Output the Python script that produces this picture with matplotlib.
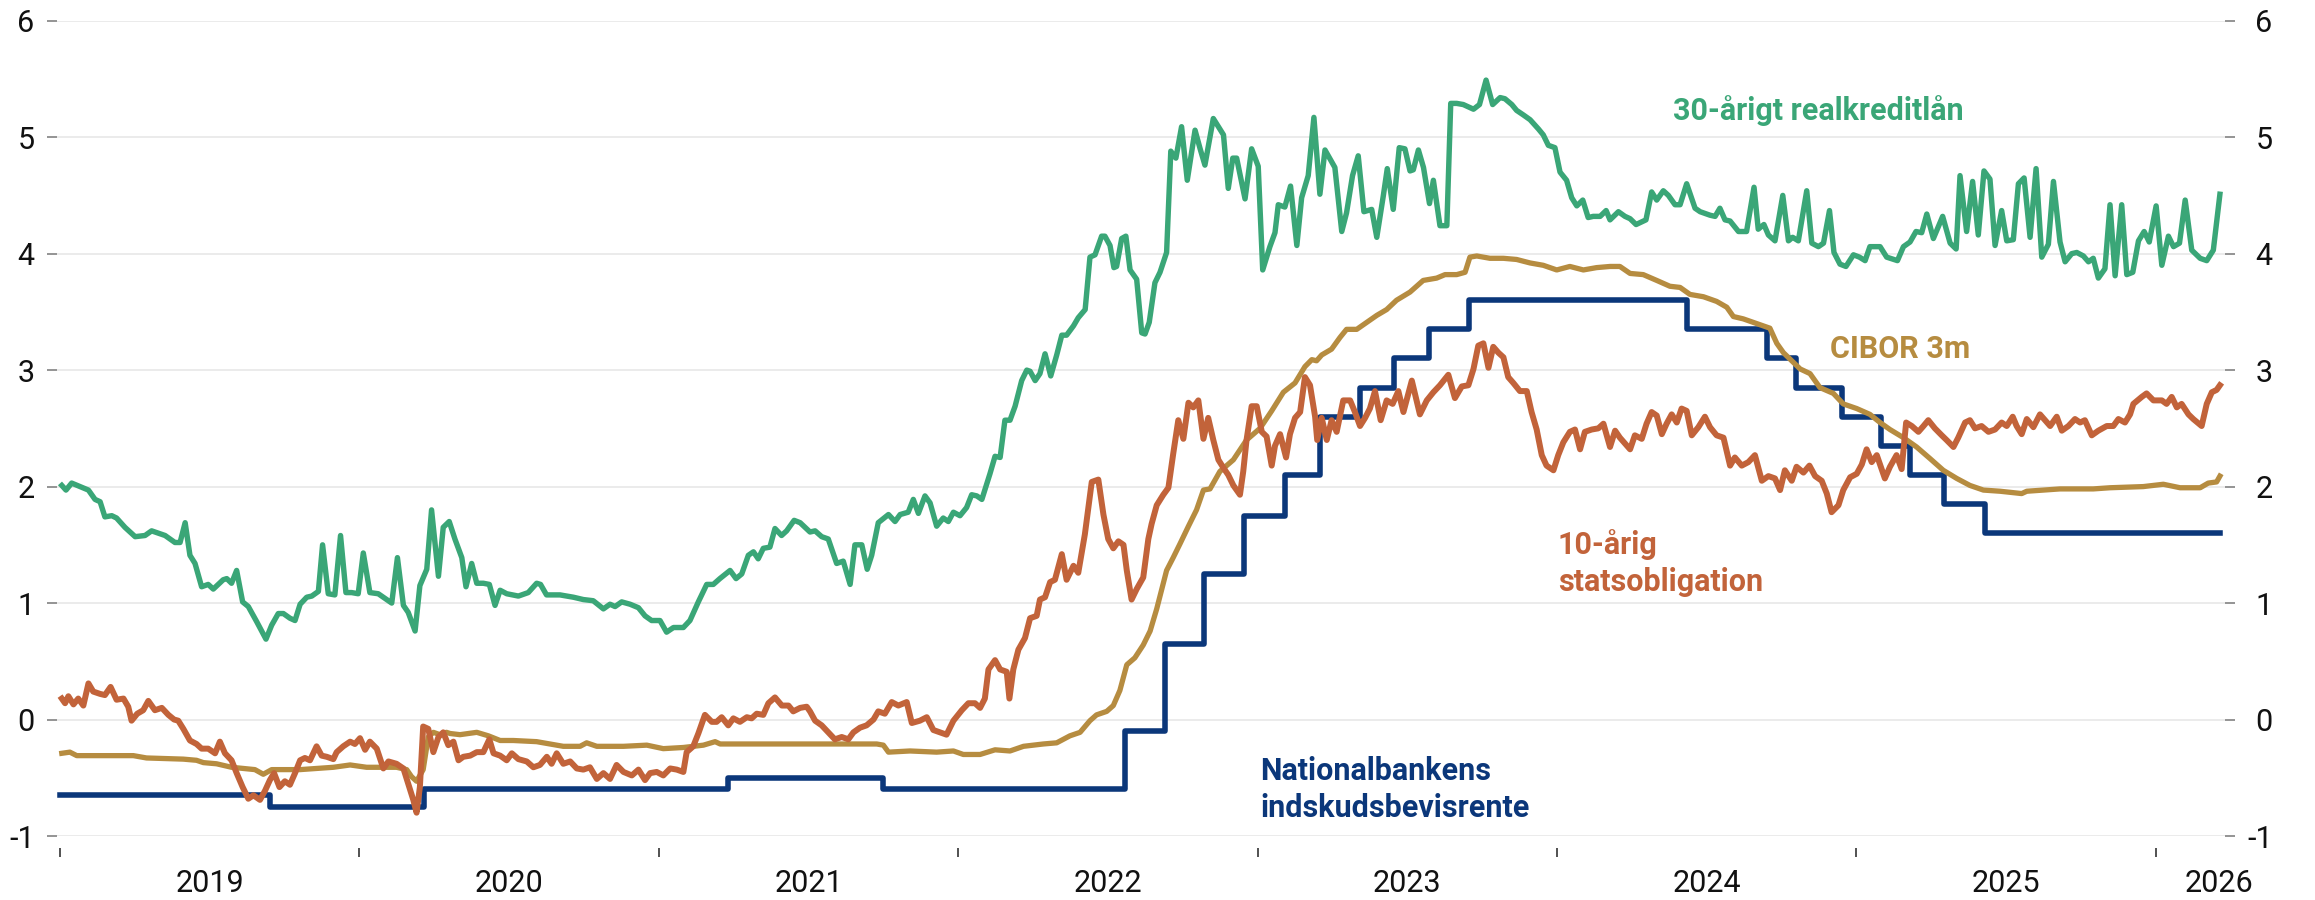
import numpy as np
import matplotlib.pyplot as plt

# ===============================
# 配置
# ===============================
plt.rcParams["font.family"] = ["Roboto", "DejaVu Sans"]
plt.rcParams["axes.unicode_minus"] = False

GREEN = "#3aa677"
GOLD = "#b68c40"
ORANGE = "#c2633a"
NAVY = "#0b377a"

# ===============================
# 数据 (decimal year, rate in %)
# ===============================
# 30-årigt realkreditlån (weekly)
realkredit = [
    (2019.006, 2.01), (2019.020, 1.97), (2019.039, 2.03), (2019.095, 1.97), (2019.117, 1.89),
    (2019.134, 1.87), (2019.150, 1.74), (2019.173, 1.75), (2019.189, 1.73), (2019.217, 1.65),
    (2019.251, 1.57), (2019.284, 1.58), (2019.306, 1.62), (2019.351, 1.58), (2019.384, 1.52),
    (2019.401, 1.52), (2019.418, 1.69), (2019.434, 1.41), (2019.451, 1.34), (2019.473, 1.14),
    (2019.495, 1.16), (2019.512, 1.12), (2019.545, 1.20), (2019.557, 1.21), (2019.573, 1.17),
    (2019.590, 1.28), (2019.610, 1.01), (2019.629, 0.97), (2019.657, 0.84), (2019.688, 0.69),
    (2019.707, 0.81), (2019.729, 0.91), (2019.746, 0.91), (2019.768, 0.87), (2019.785, 0.85),
    (2019.802, 0.99), (2019.824, 1.05), (2019.841, 1.06), (2019.863, 1.10), (2019.877, 1.50),
    (2019.896, 1.08), (2019.918, 1.07), (2019.937, 1.58), (2019.955, 1.09), (2019.974, 1.09),
    (2019.996, 1.08), (2020.013, 1.43), (2020.035, 1.09), (2020.063, 1.08), (2020.080, 1.05),
    (2020.108, 1.00), (2020.127, 1.39), (2020.147, 0.98), (2020.163, 0.92), (2020.186, 0.76),
    (2020.202, 1.15), (2020.225, 1.29), (2020.241, 1.80), (2020.264, 1.23), (2020.280, 1.65),
    (2020.300, 1.70), (2020.319, 1.55), (2020.342, 1.39), (2020.356, 1.14), (2020.375, 1.34),
    (2020.392, 1.17), (2020.414, 1.17), (2020.434, 1.16), (2020.453, 0.98), (2020.470, 1.11),
    (2020.492, 1.08), (2020.531, 1.06), (2020.564, 1.09), (2020.592, 1.17), (2020.605, 1.16),
    (2020.625, 1.07), (2020.670, 1.07), (2020.715, 1.05), (2020.748, 1.03), (2020.781, 1.02),
    (2020.815, 0.95), (2020.837, 0.99), (2020.854, 0.97), (2020.876, 1.01), (2020.904, 0.99),
    (2020.932, 0.96), (2020.954, 0.89), (2020.976, 0.85), (2021.004, 0.85), (2021.026, 0.75),
    (2021.049, 0.79), (2021.082, 0.79), (2021.104, 0.85), (2021.132, 1.01), (2021.160, 1.16),
    (2021.182, 1.16), (2021.204, 1.21), (2021.238, 1.28), (2021.258, 1.21), (2021.277, 1.25),
    (2021.299, 1.41), (2021.316, 1.44), (2021.332, 1.38), (2021.349, 1.47), (2021.371, 1.48),
    (2021.388, 1.64), (2021.410, 1.58), (2021.427, 1.62), (2021.452, 1.71), (2021.472, 1.69),
    (2021.505, 1.61), (2021.522, 1.62), (2021.544, 1.57), (2021.566, 1.55), (2021.594, 1.34),
    (2021.616, 1.36), (2021.639, 1.16), (2021.655, 1.50), (2021.678, 1.50), (2021.696, 1.29),
    (2021.711, 1.41), (2021.733, 1.69), (2021.767, 1.76), (2021.789, 1.70), (2021.806, 1.76),
    (2021.833, 1.78), (2021.850, 1.89), (2021.867, 1.77), (2021.889, 1.92), (2021.906, 1.86),
    (2021.928, 1.66), (2021.950, 1.73), (2021.967, 1.70), (2021.984, 1.78), (2022.006, 1.75),
    (2022.028, 1.82), (2022.045, 1.93), (2022.062, 1.92), (2022.079, 1.89), (2022.106, 2.11),
    (2022.123, 2.26), (2022.140, 2.25), (2022.156, 2.57), (2022.173, 2.57), (2022.190, 2.69),
    (2022.212, 2.91), (2022.229, 3.00), (2022.240, 2.99), (2022.257, 2.91), (2022.273, 2.97),
    (2022.290, 3.14), (2022.309, 2.95), (2022.329, 3.13), (2022.346, 3.30), (2022.362, 3.30),
    (2022.385, 3.38), (2022.401, 3.45), (2022.424, 3.52), (2022.440, 3.97), (2022.457, 3.99),
    (2022.479, 4.15), (2022.490, 4.15), (2022.507, 4.07), (2022.520, 3.88), (2022.529, 3.89),
    (2022.546, 4.13), (2022.560, 4.15), (2022.574, 3.86), (2022.596, 3.78), (2022.613, 3.32),
    (2022.624, 3.31), (2022.638, 3.41), (2022.657, 3.75), (2022.674, 3.84), (2022.696, 4.01),
    (2022.710, 4.88), (2022.727, 4.82), (2022.746, 5.09), (2022.765, 4.63), (2022.791, 5.06),
    (2022.808, 4.90), (2022.824, 4.76), (2022.852, 5.16), (2022.886, 5.02), (2022.902, 4.56),
    (2022.917, 4.82), (2022.930, 4.82), (2022.958, 4.47), (2022.980, 4.90), (2023.002, 4.75),
    (2023.017, 3.86), (2023.041, 4.06), (2023.058, 4.18), (2023.069, 4.42), (2023.091, 4.40),
    (2023.110, 4.58), (2023.131, 4.07), (2023.147, 4.48), (2023.169, 4.67), (2023.188, 5.17),
    (2023.208, 4.51), (2023.225, 4.89), (2023.258, 4.74), (2023.281, 4.19), (2023.297, 4.35),
    (2023.317, 4.67), (2023.336, 4.84), (2023.355, 4.36), (2023.381, 4.38), (2023.398, 4.14),
    (2023.420, 4.50), (2023.433, 4.73), (2023.453, 4.38), (2023.473, 4.91), (2023.492, 4.90),
    (2023.509, 4.71), (2023.520, 4.72), (2023.537, 4.89), (2023.554, 4.74), (2023.574, 4.43),
    (2023.587, 4.63), (2023.609, 4.24), (2023.632, 4.24), (2023.645, 5.29), (2023.665, 5.29),
    (2023.687, 5.28), (2023.721, 5.24), (2023.741, 5.28), (2023.763, 5.49), (2023.785, 5.28),
    (2023.810, 5.34), (2023.826, 5.33), (2023.849, 5.28), (2023.865, 5.23), (2023.888, 5.19),
    (2023.910, 5.15), (2023.938, 5.07), (2023.954, 5.02), (2023.971, 4.93), (2023.993, 4.91),
    (2024.010, 4.70), (2024.032, 4.63), (2024.049, 4.48), (2024.066, 4.41), (2024.086, 4.46),
    (2024.104, 4.31), (2024.121, 4.32), (2024.144, 4.32), (2024.164, 4.37), (2024.177, 4.29),
    (2024.205, 4.36), (2024.227, 4.32), (2024.244, 4.30), (2024.264, 4.25), (2024.297, 4.29),
    (2024.316, 4.53), (2024.333, 4.46), (2024.355, 4.54), (2024.372, 4.50), (2024.394, 4.42),
    (2024.411, 4.42), (2024.433, 4.60), (2024.461, 4.39), (2024.478, 4.36), (2024.511, 4.33),
    (2024.528, 4.32), (2024.544, 4.39), (2024.561, 4.29), (2024.578, 4.28), (2024.606, 4.19),
    (2024.633, 4.19), (2024.658, 4.57), (2024.672, 4.21), (2024.691, 4.25), (2024.706, 4.16),
    (2024.728, 4.11), (2024.754, 4.50), (2024.773, 4.11), (2024.787, 4.14), (2024.806, 4.11),
    (2024.834, 4.54), (2024.851, 4.09), (2024.873, 4.06), (2024.890, 4.09), (2024.910, 4.37),
    (2024.925, 4.01), (2024.945, 3.91), (2024.965, 3.89), (2024.990, 3.99), (2025.010, 3.97),
    (2025.029, 3.94), (2025.045, 4.06), (2025.079, 4.06), (2025.101, 3.97), (2025.137, 3.94),
    (2025.157, 4.06), (2025.179, 4.10), (2025.199, 4.19), (2025.218, 4.18), (2025.235, 4.34),
    (2025.257, 4.13), (2025.288, 4.32), (2025.313, 4.09), (2025.333, 4.04), (2025.346, 4.67),
    (2025.368, 4.19), (2025.388, 4.62), (2025.407, 4.16), (2025.426, 4.71), (2025.446, 4.64),
    (2025.463, 4.07), (2025.485, 4.37), (2025.502, 4.11), (2025.524, 4.12), (2025.541, 4.60),
    (2025.560, 4.65), (2025.580, 4.14), (2025.600, 4.73), (2025.619, 3.97), (2025.641, 4.08),
    (2025.658, 4.62), (2025.680, 4.10), (2025.697, 3.93), (2025.719, 4.00), (2025.736, 4.01),
    (2025.758, 3.98), (2025.775, 3.93), (2025.791, 3.96), (2025.808, 3.79), (2025.830, 3.87),
    (2025.847, 4.42), (2025.864, 3.81), (2025.886, 4.42), (2025.903, 3.82), (2025.923, 3.84),
    (2025.942, 4.11), (2025.961, 4.19), (2025.978, 4.10), (2026.001, 4.41), (2026.020, 3.90),
    (2026.042, 4.15), (2026.059, 4.06), (2026.079, 4.09), (2026.098, 4.46), (2026.120, 4.03),
    (2026.148, 3.96), (2026.170, 3.94), (2026.192, 4.03), (2026.214, 4.51),
]

# 10-årig statsobligation
statsobligation = [
    (2019.006, 0.18), (2019.017, 0.14), (2019.028, 0.20), (2019.045, 0.13), (2019.061, 0.18),
    (2019.078, 0.12), (2019.095, 0.31), (2019.111, 0.24), (2019.134, 0.22), (2019.150, 0.21),
    (2019.169, 0.28), (2019.189, 0.17), (2019.212, 0.18), (2019.228, 0.11), (2019.239, -0.01),
    (2019.258, 0.05), (2019.278, 0.08), (2019.295, 0.16), (2019.317, 0.08), (2019.340, 0.10),
    (2019.362, 0.04), (2019.381, 0.00), (2019.395, -0.01), (2019.412, -0.08), (2019.434, -0.18),
    (2019.456, -0.21), (2019.473, -0.25), (2019.495, -0.25), (2019.518, -0.29), (2019.534, -0.19),
    (2019.551, -0.29), (2019.573, -0.35), (2019.590, -0.46), (2019.610, -0.58), (2019.629, -0.68),
    (2019.646, -0.65), (2019.668, -0.69), (2019.685, -0.61), (2019.701, -0.52), (2019.715, -0.46),
    (2019.733, -0.58), (2019.751, -0.53), (2019.768, -0.56), (2019.785, -0.46), (2019.802, -0.35),
    (2019.818, -0.33), (2019.835, -0.35), (2019.857, -0.23), (2019.874, -0.31), (2019.891, -0.32),
    (2019.913, -0.34), (2019.924, -0.28), (2019.946, -0.23), (2019.969, -0.19), (2019.985, -0.21),
    (2020.002, -0.16), (2020.019, -0.26), (2020.035, -0.19), (2020.058, -0.25), (2020.080, -0.42),
    (2020.097, -0.36), (2020.124, -0.38), (2020.147, -0.42), (2020.163, -0.55), (2020.180, -0.69),
    (2020.191, -0.80), (2020.202, -0.58), (2020.213, -0.06), (2020.230, -0.08), (2020.247, -0.28),
    (2020.264, -0.15), (2020.280, -0.11), (2020.297, -0.22), (2020.314, -0.19), (2020.331, -0.35),
    (2020.347, -0.32), (2020.370, -0.31), (2020.392, -0.28), (2020.414, -0.28), (2020.434, -0.17),
    (2020.448, -0.29), (2020.470, -0.31), (2020.492, -0.35), (2020.509, -0.29), (2020.531, -0.34),
    (2020.559, -0.36), (2020.581, -0.41), (2020.603, -0.39), (2020.626, -0.32), (2020.642, -0.38),
    (2020.659, -0.29), (2020.681, -0.38), (2020.704, -0.36), (2020.726, -0.42), (2020.748, -0.43),
    (2020.770, -0.41), (2020.793, -0.51), (2020.815, -0.46), (2020.837, -0.51), (2020.859, -0.39),
    (2020.882, -0.45), (2020.910, -0.48), (2020.932, -0.43), (2020.954, -0.52), (2020.971, -0.46),
    (2020.993, -0.45), (2021.015, -0.48), (2021.038, -0.42), (2021.060, -0.43), (2021.082, -0.45),
    (2021.093, -0.28), (2021.115, -0.23), (2021.132, -0.12), (2021.154, 0.04), (2021.177, -0.02),
    (2021.193, -0.02), (2021.210, 0.02), (2021.232, -0.05), (2021.249, 0.01), (2021.271, -0.02),
    (2021.294, 0.02), (2021.310, 0.01), (2021.327, 0.05), (2021.349, 0.04), (2021.366, 0.14),
    (2021.388, 0.19), (2021.411, 0.12), (2021.433, 0.12), (2021.449, 0.07), (2021.472, 0.10),
    (2021.494, 0.11), (2021.505, 0.07), (2021.522, -0.01), (2021.544, -0.05), (2021.566, -0.11),
    (2021.588, -0.17), (2021.611, -0.15), (2021.633, -0.17), (2021.650, -0.11), (2021.672, -0.07),
    (2021.694, -0.05), (2021.717, 0.00), (2021.733, 0.07), (2021.755, 0.05), (2021.778, 0.15),
    (2021.800, 0.12), (2021.828, 0.15), (2021.845, -0.03), (2021.872, -0.01), (2021.895, 0.02),
    (2021.917, -0.09), (2021.939, -0.11), (2021.961, -0.13), (2021.984, -0.01), (2022.012, 0.08),
    (2022.034, 0.14), (2022.056, 0.14), (2022.073, 0.10), (2022.089, 0.18), (2022.101, 0.43),
    (2022.123, 0.51), (2022.140, 0.43), (2022.162, 0.41), (2022.171, 0.18), (2022.184, 0.43),
    (2022.201, 0.60), (2022.223, 0.70), (2022.240, 0.87), (2022.262, 0.89), (2022.273, 1.03),
    (2022.290, 1.05), (2022.307, 1.18), (2022.323, 1.20), (2022.346, 1.42), (2022.362, 1.20),
    (2022.385, 1.32), (2022.401, 1.26), (2022.423, 1.59), (2022.446, 2.04), (2022.468, 2.06),
    (2022.485, 1.76), (2022.501, 1.55), (2022.518, 1.47), (2022.535, 1.53), (2022.552, 1.50),
    (2022.563, 1.28), (2022.579, 1.03), (2022.596, 1.12), (2022.618, 1.22), (2022.635, 1.55),
    (2022.646, 1.68), (2022.663, 1.84), (2022.685, 1.93), (2022.702, 1.99), (2022.718, 2.28),
    (2022.735, 2.57), (2022.752, 2.41), (2022.769, 2.72), (2022.785, 2.68), (2022.802, 2.74),
    (2022.819, 2.41), (2022.835, 2.59), (2022.852, 2.40), (2022.869, 2.23), (2022.886, 2.16),
    (2022.902, 2.10), (2022.919, 2.01), (2022.941, 1.93), (2022.952, 2.13), (2022.963, 2.40),
    (2022.980, 2.69), (2022.997, 2.69), (2023.014, 2.47), (2023.030, 2.43), (2023.047, 2.18),
    (2023.058, 2.35), (2023.075, 2.45), (2023.095, 2.25), (2023.108, 2.45), (2023.125, 2.59),
    (2023.142, 2.64), (2023.158, 2.94), (2023.175, 2.87), (2023.192, 2.60), (2023.199, 2.40),
    (2023.214, 2.59), (2023.231, 2.40), (2023.247, 2.57), (2023.264, 2.47), (2023.286, 2.74),
    (2023.309, 2.74), (2023.325, 2.64), (2023.342, 2.52), (2023.359, 2.59), (2023.375, 2.67),
    (2023.392, 2.82), (2023.411, 2.57), (2023.431, 2.74), (2023.451, 2.71), (2023.470, 2.82),
    (2023.487, 2.64), (2023.515, 2.91), (2023.542, 2.62), (2023.565, 2.74), (2023.587, 2.81),
    (2023.609, 2.87), (2023.637, 2.96), (2023.659, 2.76), (2023.682, 2.86), (2023.704, 2.87),
    (2023.721, 3.01), (2023.737, 3.21), (2023.754, 3.23), (2023.771, 3.02), (2023.787, 3.20),
    (2023.804, 3.15), (2023.821, 3.11), (2023.837, 2.94), (2023.854, 2.89), (2023.876, 2.82),
    (2023.899, 2.82), (2023.915, 2.64), (2023.932, 2.49), (2023.949, 2.27), (2023.965, 2.18),
    (2023.988, 2.14), (2024.004, 2.27), (2024.021, 2.38), (2024.043, 2.47), (2024.060, 2.49),
    (2024.077, 2.32), (2024.093, 2.47), (2024.116, 2.49), (2024.138, 2.50), (2024.155, 2.54),
    (2024.177, 2.34), (2024.194, 2.48), (2024.210, 2.42), (2024.227, 2.37), (2024.244, 2.32),
    (2024.260, 2.44), (2024.283, 2.41), (2024.299, 2.54), (2024.316, 2.64), (2024.333, 2.61),
    (2024.350, 2.45), (2024.366, 2.54), (2024.383, 2.62), (2024.400, 2.55), (2024.416, 2.67),
    (2024.433, 2.65), (2024.450, 2.44), (2024.472, 2.51), (2024.494, 2.60), (2024.511, 2.51),
    (2024.533, 2.44), (2024.556, 2.42), (2024.578, 2.18), (2024.594, 2.25), (2024.617, 2.18),
    (2024.639, 2.21), (2024.661, 2.27), (2024.684, 2.05), (2024.706, 2.09), (2024.728, 2.07),
    (2024.745, 1.97), (2024.761, 2.14), (2024.784, 2.05), (2024.800, 2.17), (2024.823, 2.12),
    (2024.843, 2.18), (2024.862, 2.09), (2024.884, 2.05), (2024.901, 1.94), (2024.917, 1.78),
    (2024.940, 1.84), (2024.956, 1.97), (2024.979, 2.08), (2025.001, 2.11), (2025.018, 2.19),
    (2025.034, 2.32), (2025.051, 2.21), (2025.068, 2.27), (2025.084, 2.15), (2025.095, 2.07),
    (2025.112, 2.17), (2025.134, 2.27), (2025.151, 2.15), (2025.166, 2.55), (2025.185, 2.52),
    (2025.207, 2.47), (2025.224, 2.52), (2025.240, 2.57), (2025.262, 2.50), (2025.285, 2.44),
    (2025.301, 2.40), (2025.324, 2.34), (2025.340, 2.42), (2025.363, 2.55), (2025.379, 2.57),
    (2025.396, 2.50), (2025.418, 2.52), (2025.441, 2.47), (2025.463, 2.49), (2025.485, 2.55),
    (2025.502, 2.52), (2025.522, 2.60), (2025.535, 2.52), (2025.552, 2.45), (2025.569, 2.58),
    (2025.591, 2.51), (2025.613, 2.62), (2025.630, 2.57), (2025.647, 2.52), (2025.669, 2.60),
    (2025.686, 2.48), (2025.708, 2.52), (2025.730, 2.58), (2025.747, 2.55), (2025.763, 2.57),
    (2025.786, 2.44), (2025.808, 2.48), (2025.836, 2.52), (2025.858, 2.52), (2025.875, 2.58),
    (2025.897, 2.55), (2025.914, 2.62), (2025.925, 2.71), (2025.953, 2.77), (2025.969, 2.80),
    (2025.992, 2.74), (2026.020, 2.74), (2026.036, 2.71), (2026.053, 2.77), (2026.070, 2.68),
    (2026.086, 2.71), (2026.109, 2.62), (2026.125, 2.58), (2026.153, 2.52), (2026.170, 2.71),
    (2026.187, 2.81), (2026.203, 2.83), (2026.214, 2.87),
]

# CIBOR 3m
cibor = [
    (2019.006, -0.29), (2019.033, -0.28), (2019.056, -0.31), (2019.134, -0.31), (2019.245, -0.31),
    (2019.289, -0.33), (2019.412, -0.34), (2019.456, -0.35), (2019.479, -0.37), (2019.523, -0.38),
    (2019.573, -0.41), (2019.612, -0.42), (2019.651, -0.43), (2019.679, -0.47), (2019.707, -0.43),
    (2019.746, -0.43), (2019.802, -0.43), (2019.857, -0.42), (2019.913, -0.41), (2019.969, -0.39),
    (2020.024, -0.41), (2020.124, -0.41), (2020.158, -0.43), (2020.174, -0.49), (2020.191, -0.53),
    (2020.213, -0.43), (2020.230, -0.15), (2020.247, -0.11), (2020.269, -0.13), (2020.291, -0.11),
    (2020.303, -0.12), (2020.336, -0.13), (2020.392, -0.11), (2020.431, -0.14), (2020.470, -0.18),
    (2020.514, -0.18), (2020.592, -0.19), (2020.637, -0.21), (2020.681, -0.23), (2020.737, -0.23),
    (2020.759, -0.20), (2020.793, -0.23), (2020.882, -0.23), (2020.960, -0.22), (2021.015, -0.25),
    (2021.082, -0.24), (2021.149, -0.22), (2021.188, -0.19), (2021.205, -0.21), (2021.294, -0.21),
    (2021.405, -0.21), (2021.616, -0.21), (2021.728, -0.21), (2021.750, -0.22), (2021.767, -0.28),
    (2021.839, -0.27), (2021.928, -0.28), (2021.984, -0.27), (2022.017, -0.30), (2022.073, -0.30),
    (2022.123, -0.26), (2022.173, -0.27), (2022.218, -0.23), (2022.284, -0.21), (2022.329, -0.20),
    (2022.373, -0.14), (2022.407, -0.11), (2022.440, -0.01), (2022.462, 0.04), (2022.496, 0.07),
    (2022.518, 0.12), (2022.540, 0.25), (2022.563, 0.47), (2022.590, 0.53), (2022.618, 0.64),
    (2022.641, 0.76), (2022.663, 0.95), (2022.680, 1.12), (2022.696, 1.28), (2022.718, 1.39),
    (2022.741, 1.51), (2022.769, 1.66), (2022.796, 1.80), (2022.819, 1.97), (2022.841, 1.98),
    (2022.874, 2.13), (2022.919, 2.23), (2022.963, 2.40), (2023.008, 2.50), (2023.047, 2.65),
    (2023.086, 2.81), (2023.125, 2.89), (2023.158, 3.03), (2023.181, 3.09), (2023.197, 3.08),
    (2023.214, 3.13), (2023.247, 3.18), (2023.275, 3.28), (2023.297, 3.35), (2023.331, 3.35),
    (2023.370, 3.42), (2023.398, 3.47), (2023.431, 3.52), (2023.464, 3.60), (2023.509, 3.67),
    (2023.553, 3.77), (2023.598, 3.79), (2023.626, 3.82), (2023.665, 3.82), (2023.693, 3.84),
    (2023.709, 3.97), (2023.732, 3.98), (2023.776, 3.96), (2023.821, 3.96), (2023.865, 3.95),
    (2023.910, 3.92), (2023.954, 3.90), (2023.999, 3.86), (2024.043, 3.89), (2024.088, 3.86),
    (2024.132, 3.88), (2024.177, 3.89), (2024.210, 3.89), (2024.244, 3.83), (2024.288, 3.82),
    (2024.333, 3.77), (2024.377, 3.72), (2024.411, 3.71), (2024.444, 3.65), (2024.489, 3.63),
    (2024.533, 3.59), (2024.567, 3.54), (2024.589, 3.46), (2024.622, 3.44), (2024.667, 3.40),
    (2024.711, 3.36), (2024.734, 3.23), (2024.756, 3.15), (2024.784, 3.08), (2024.812, 3.01),
    (2024.845, 2.97), (2024.878, 2.85), (2024.923, 2.80), (2024.956, 2.71), (2025.001, 2.67),
    (2025.045, 2.62), (2025.079, 2.55), (2025.112, 2.49), (2025.157, 2.42), (2025.201, 2.34),
    (2025.246, 2.24), (2025.290, 2.14), (2025.335, 2.07), (2025.379, 2.01), (2025.424, 1.97),
    (2025.480, 1.96), (2025.552, 1.94), (2025.569, 1.96), (2025.680, 1.98), (2025.791, 1.98),
    (2025.847, 1.99), (2025.958, 2.00), (2026.025, 2.02), (2026.081, 1.99), (2026.148, 1.99),
    (2026.175, 2.03), (2026.203, 2.04), (2026.214, 2.09),
]

# Nationalbankens indskudsbevisrente (date of change, new rate)
nb_dates = [2019.000, 2019.701, 2020.216, 2021.230, 2021.750, 2022.556, 2022.689, 2022.822,
            2022.956, 2023.093, 2023.208, 2023.342, 2023.456, 2023.572, 2023.706, 2024.434,
            2024.701, 2024.797, 2024.951, 2025.083, 2025.179, 2025.293, 2025.430, 2026.214]
nb_rates = [-0.65, -0.75, -0.60, -0.50, -0.60, -0.10, 0.65, 1.25,
            1.75, 2.10, 2.60, 2.85, 3.10, 3.35, 3.60, 3.35,
            3.10, 2.85, 2.60, 2.35, 2.10, 1.85, 1.60, 1.60]

year_ticks = list(range(2019, 2027))
year_label_pos = [2019.5, 2020.5, 2021.5, 2022.5, 2023.5, 2024.5, 2025.5, 2026.21]
year_labels = ["2019", "2020", "2021", "2022", "2023", "2024", "2025", "2026"]
y_ticks = list(range(-1, 7))

# ===============================
# 绘制
# ===============================
fig = plt.figure(figsize=(23.15, 9), dpi=100)
ax = fig.add_axes([57 / 2315, 64 / 900, (2225 - 57) / 2315, (836 - 20.7) / 900])

ax.step(nb_dates, nb_rates, where="post", color=NAVY, lw=4.0, zorder=3)
x, y = np.array(cibor).T
ax.plot(x, y, color=GOLD, lw=3.8, zorder=4, solid_joinstyle="round")
x, y = np.array(statsobligation).T
ax.plot(x, y, color=ORANGE, lw=4.3, zorder=5, solid_joinstyle="round")
x, y = np.array(realkredit).T
ax.plot(x, y, color=GREEN, lw=3.9, zorder=6, solid_joinstyle="round")

# labels
lab = dict(fontsize=22, fontweight="bold", ha="left", va="center")
ax.text(2024.387, 5.23, "30-årigt realkreditlån", color=GREEN, **lab)
ax.text(2024.912, 3.18, "CIBOR 3m", color=GOLD, **lab)
ax.text(2024.003, 1.345, "10-årig\nstatsobligation", color=ORANGE, linespacing=1.3, **lab)
ax.text(2023.008, -0.60, "Nationalbankens\nindskudsbevisrente", color=NAVY, linespacing=1.3, **lab)

# axes
ax.set_xlim(2018.99, 2026.231)
ax.set_ylim(-1, 6)
for s in ax.spines.values():
    s.set_visible(False)
ax.spines["bottom"].set_position(("outward", 8.6))

ax.set_yticks(y_ticks)
ax.yaxis.grid(True, color="#e6e6e6", lw=1.1)
ax.set_axisbelow(True)
ax.tick_params(axis="y", length=7.2, width=1.1, color="#777777", labelsize=22, pad=9,
               labelcolor="#111111")

ax2 = ax.twinx()
ax2.set_ylim(-1, 6)
for s in ax2.spines.values():
    s.set_visible(False)
ax2.set_yticks(y_ticks)
ax2.tick_params(axis="y", length=7.2, width=1.1, color="#777777", labelsize=22, pad=27,
                labelcolor="#111111")
for t in ax2.get_yticklabels():
    t.set_horizontalalignment("right")

ax.set_xticks(year_ticks)
ax.set_xticklabels([])
ax.set_xticks(year_label_pos, minor=True)
ax.set_xticklabels(year_labels, minor=True)
ax.tick_params(axis="x", which="major", length=6.5, width=1.2, color="#333333")
ax.tick_params(axis="x", which="minor", length=0, pad=15, labelsize=22, labelcolor="#111111")

fig.savefig("out.png", dpi=100)
